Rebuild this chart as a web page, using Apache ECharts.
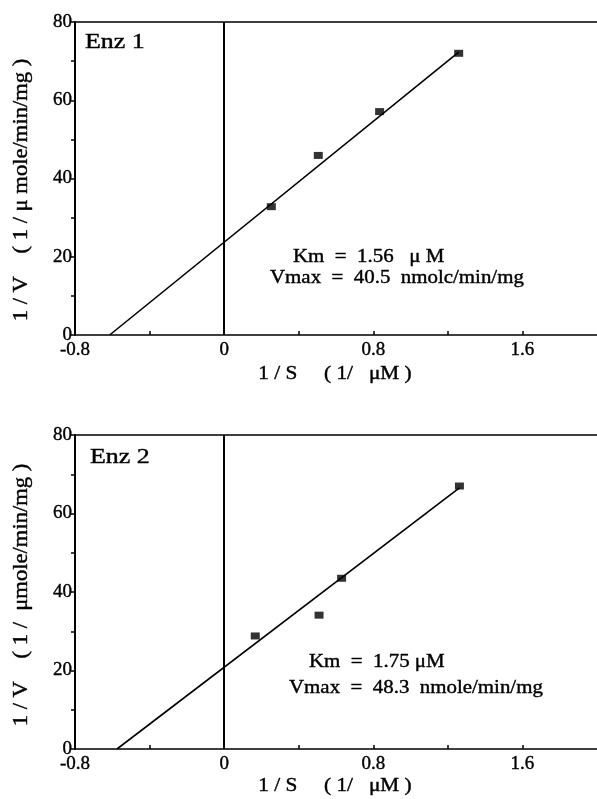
<!DOCTYPE html>
<html>
  <head>
    <meta charset="UTF-8" />
    <title>Lineweaver-Burk</title>
    <style>
      html,
      body {
        margin: 0;
        padding: 0;
        width: 100%;
        height: 100%;
        background: #fff;
        overflow: hidden;
      }
      #main {
        width: 597px;
        height: 799px;
      }
    </style>
    <script src="https://cdn.jsdelivr.net/npm/echarts@6/dist/echarts.min.js"></script>
  </head>
  <body>
    <div id="main"></div>
    <script>
      // values
      const xLabelValues = [-0.8, 0, 0.8, 1.6];
      const yLabelValues = [0, 20, 40, 60, 80];
      const panelNames = ["Enz 1", "Enz 2"];
      const enz1Points = [[0.253, 32.8], [0.505, 45.9], [0.834, 57.1], [1.258, 72.0]];
      const enz1Fit = [[-0.614, 0], [1.258, 72.3]];
      const enz2Points = [[0.167, 28.8], [0.509, 34.1], [0.63, 43.5], [1.262, 67.0]];
      const enz2Fit = [[-0.575, 0], [1.262, 66.5]];
      const kmText = ["Km  =  1.56   \u03bc M", "Km  =  1.75 \u03bcM"];
      const vmaxText = ["Vmax  =  40.5  nmolc/min/mg", "Vmax  =  48.3  nmole/min/mg"];
      const yTitles = ["1 / V    ( 1 / \u03bc mole/min/mg )", "1 / V    ( 1 /  \u03bcmole/min/mg )"];
      const xTitle = "1 / S     ( 1/   \u03bcM )";

      const font = "Liberation Serif";
      const ink = "#000";

      var myChart = echarts.init(document.getElementById("main"));

      let grids = [
        { left: 75, right: 0, top: 22, height: 313 },
        { left: 75, right: 0, top: 435, height: 314 },
      ];

      let labelStyle = {
        fontFamily: font,
        fontSize: 19,
        color: ink,
        textBorderColor: ink,
        textBorderWidth: 0.4,
      };

      function bottomAxis(i) {
        return {
          type: "value",
          gridIndex: i,
          min: -0.8,
          max: 2.0,
          interval: 0.4,
          position: "bottom",
          splitLine: { show: false },
          axisLine: { onZero: false, lineStyle: { color: ink, width: 1.5 } },
          axisTick: { inside: true, length: 4, lineStyle: { color: ink, width: 1.5 } },
          axisLabel: Object.assign({}, labelStyle, {
            margin: 6,
            showMaxLabel: false,
            formatter: function (v) {
              let hit = xLabelValues.find((t) => Math.abs(t - v) < 1e-6);
              return hit === undefined ? "" : String(hit);
            },
          }),
        };
      }

      function topAxis(i) {
        return {
          type: "value",
          gridIndex: i,
          min: -0.8,
          max: 2.0,
          position: "top",
          axisLine: { onZero: false, lineStyle: { color: ink, width: 1.5 } },
          axisTick: { show: false },
          axisLabel: { show: false },
          splitLine: { show: false },
        };
      }

      function leftAxis(i) {
        return {
          type: "value",
          gridIndex: i,
          min: 0,
          max: 80,
          interval: 10,
          splitLine: { show: false },
          axisLine: { show: true, onZero: false, lineStyle: { color: ink, width: 2 } },
          axisTick: { length: 4, lineStyle: { color: ink, width: 1.5 } },
          axisLabel: Object.assign({}, labelStyle, {
            margin: 3,
            formatter: function (v) {
              return yLabelValues.indexOf(v) >= 0 ? String(v) : "";
            },
          }),
        };
      }

      function panelSeries(i, pts, fit) {
        return [
          {
            type: "line",
            xAxisIndex: i * 2,
            yAxisIndex: i,
            data: fit,
            symbol: "none",
            lineStyle: { color: ink, width: 1.6 },
            markLine: {
              silent: true,
              symbol: "none",
              label: { show: false },
              lineStyle: { color: ink, width: 2, type: "solid" },
              data: [{ xAxis: 0 }],
            },
            z: 3,
          },
          {
            type: "scatter",
            xAxisIndex: i * 2,
            yAxisIndex: i,
            data: pts,
            symbol: "rect",
            symbolSize: [9, 7],
            itemStyle: { color: ink },
            z: 4,
          },
        ];
      }

      // scanned Times looks wide and heavy: stretch a bit and add a thin stroke
      function txt(x, y, s, size, sx, extra) {
        return Object.assign(
          {
            type: "text",
            x: x,
            y: y,
            scaleX: sx,
            style: {
              text: s,
              fontFamily: font,
              fontSize: size,
              fill: ink,
              stroke: ink,
              lineWidth: 0.4,
              textVerticalAlign: "middle",
            },
          },
          extra || {}
        );
      }

      function yTitle(y, s) {
        return {
          type: "text",
          x: 22,
          y: y,
          rotation: Math.PI / 2,
          scaleX: 1.13,
          style: {
            text: s,
            fontFamily: font,
            fontSize: 20,
            fill: ink,
            stroke: ink,
            lineWidth: 0.4,
            textAlign: "center",
            textVerticalAlign: "middle",
          },
        };
      }

      function xTitleText(y) {
        return {
          type: "text",
          x: 335,
          y: y,
          scaleX: 1.12,
          style: {
            text: xTitle,
            fontFamily: font,
            fontSize: 19,
            fill: ink,
            stroke: ink,
            lineWidth: 0.4,
            textAlign: "center",
            textVerticalAlign: "middle",
          },
        };
      }

      option = {
        animation: false,
        grid: grids,
        xAxis: [bottomAxis(0), topAxis(0), bottomAxis(1), topAxis(1)],
        yAxis: [leftAxis(0), leftAxis(1)],
        series: [].concat(panelSeries(0, enz1Points, enz1Fit), panelSeries(1, enz2Points, enz2Fit)),
        graphic: [
          txt(85, 42, panelNames[0], 22, 1.18),
          txt(90, 457, panelNames[1], 22, 1.18),
          txt(293, 257, kmText[0], 19, 1.1),
          txt(270, 278, vmaxText[0], 19, 1.1),
          txt(309, 662, kmText[1], 19, 1.1),
          txt(289, 688, vmaxText[1], 19, 1.1),
          yTitle(190, yTitles[0]),
          yTitle(595, yTitles[1]),
          xTitleText(374),
          xTitleText(786),
        ],
      };

      myChart.setOption(option);
    </script>
  </body>
</html>
